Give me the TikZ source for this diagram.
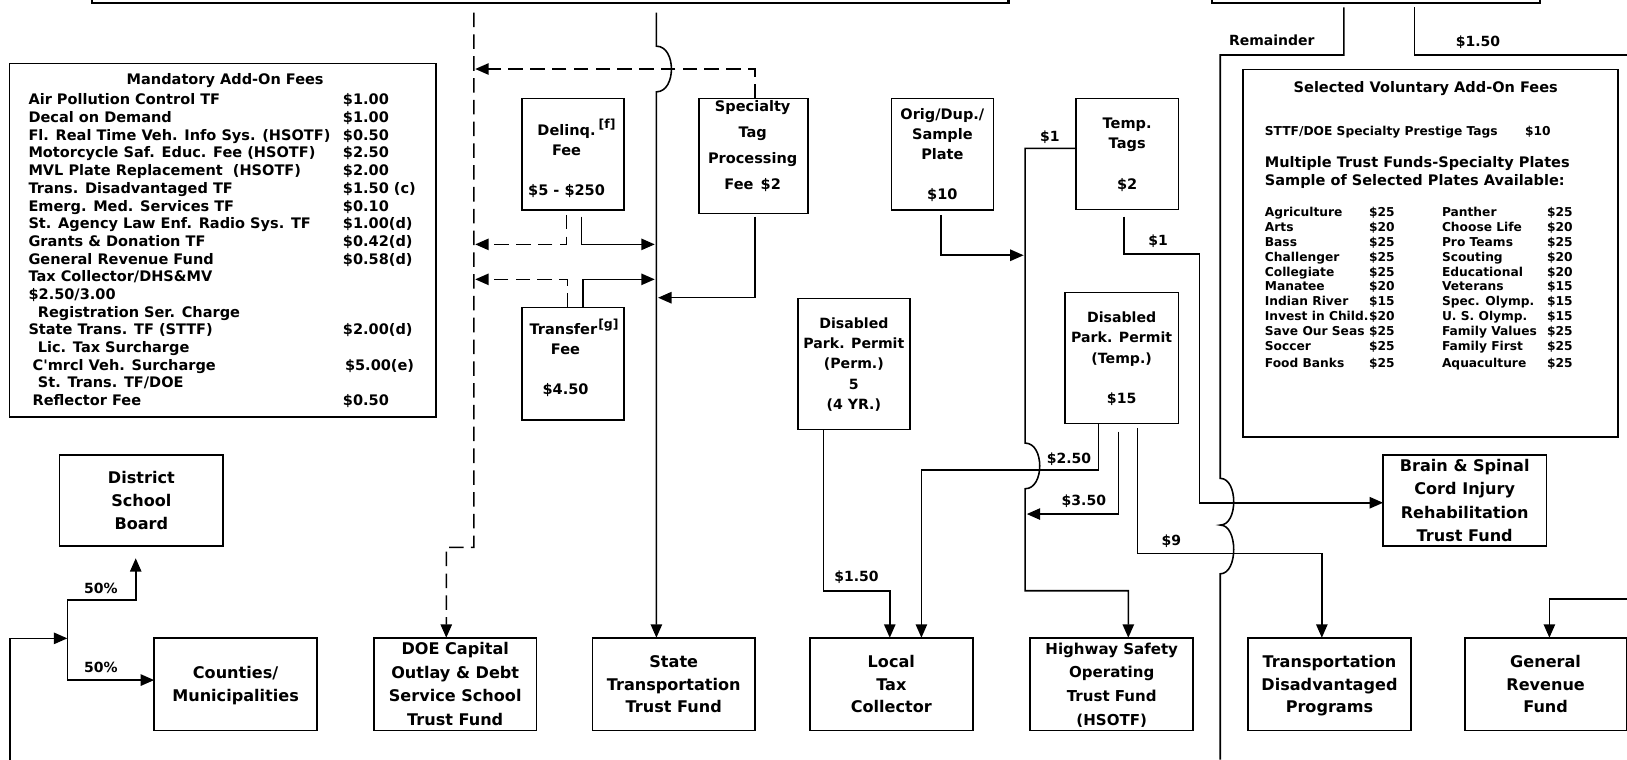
\documentclass[tikz,border=0pt]{standalone}
\usepackage{fontspec}
\setmainfont{DejaVu Sans}
\usetikzlibrary{arrows.meta,calc}
\newcommand\fs[2]{\fontsize{#1}{#2}\selectfont}
% invisible rules: top one reaches 0.979em, bottom one 0.25em below the baseline,
% so a text block is centred on the middle of its capital letters
\newcommand\topst{\rule{0pt}{0.979em}}
\newcommand\botst{\rule[-0.25em]{0pt}{0.25em}}
\newcommand\mrow[2]{\makebox[303pt][l]{#1}#2}
\newcommand\vrow[4]{\makebox[100.5pt][l]{#1}\makebox[70.2pt][l]{#2}\makebox[101.3pt][l]{#3}#4}
\newcommand\fnref[1]{\raisebox{6pt}{\fs{12}{12}[#1]}}

\begin{document}
\begin{tikzpicture}[x=1pt,y=-1pt,
  every node/.style={inner sep=0pt, outer sep=0pt},
  tf/.style 2 args={font=\bfseries\fs{#1}{#2}},
  box/.style={draw, line width=1.5pt, rectangle, align=center},
  topbox/.style={draw, line width=2.2pt, rectangle},
  ctr/.style={align=center},
  lft/.style={align=left, anchor=west},
  lab/.style={tf={13.5}{16}, anchor=west, execute at begin node=\topst, execute at end node=\botst},
  wire/.style={line width=1.5pt},
  dwire/.style={line width=1.5pt, dash pattern=on 14pt off 7pt},
  arr/.style={-{Triangle[length=13pt,width=11pt]}},
  big/.style={box, tf={15.5}{22}, minimum width=157pt, minimum height=89.6pt},
]
\fill[white] (0,0) rectangle (1568,732);
\useasboundingbox (0,0) rectangle (1568,732);
\clip (0,0) rectangle (1568,732);

% ---------- source boxes at the top ----------
\node[topbox, minimum width=883pt, minimum height=33.2pt] (topl) at (530.5,-14) {};
\node[topbox, minimum width=316pt, minimum height=33.2pt] (topr) at (1326,-14) {};

% ---------- mandatory add-on fees ----------
\node[box, minimum width=411pt, minimum height=341pt] (mand) at (214.5,231.5) {};
\node[tf={14}{17}] (mandtitle) at (217,76) {\topst Mandatory Add-On Fees\botst};
\node[lft, tf={14}{17.05}] (mandlist) at (27.5,240.9) {\topst\mrow{Air Pollution Control TF}{\$1.00}\\
\mrow{Decal on Demand}{\$1.00}\\
\mrow{Fl. Real Time Veh. Info Sys. (HSOTF)}{\$0.50}\\
\mrow{Motorcycle Saf. Educ. Fee (HSOTF)}{\$2.50}\\
\mrow{MVL Plate Replacement\ \ (HSOTF)}{\$2.00}\\
\mrow{Trans. Disadvantaged TF}{\$1.50 (c)}\\
\mrow{Emerg. Med. Services TF}{\$0.10}\\
\mrow{St. Agency Law Enf. Radio Sys. TF}{\$1.00(d)}\\
\mrow{Grants \& Donation TF}{\$0.42(d)}\\
\mrow{General Revenue Fund}{\$0.58(d)}\\
\mrow{Tax Collector/DHS\&MV}{}\\
\mrow{\$2.50/3.00}{}\\
\mrow{\hspace*{9pt}Registration Ser. Charge}{}\\
\mrow{State Trans. TF (STTF)}{\$2.00(d)}\\
\mrow{\hspace*{9pt}Lic. Tax Surcharge}{}\\
\mrow{\hspace*{4pt}C\textquotesingle mrcl Veh. Surcharge}{\hspace*{2pt}\$5.00(e)}\\
\mrow{\hspace*{9pt}St. Trans. TF/DOE}{}\\
\mrow{\hspace*{4pt}Reflector Fee}{\$0.50}\botst};

% ---------- selected voluntary add-on fees ----------
\node[box, minimum width=361.6pt, minimum height=354.1pt] (vol) at (1378.5,243.85) {};
\node[tf={14}{17}] (voltitle) at (1374,84.2) {\topst Selected Voluntary Add-On Fees\botst};
\node[tf={11.8}{14}, anchor=west] (volsttf) at (1219,125.9) {\topst\makebox[250.7pt][l]{STTF/DOE Specialty Prestige Tags}\$10\botst};
\node[lft, tf={14}{17.1}] (volmult) at (1219,164.95) {\topst Multiple Trust Funds-Specialty Plates\\Sample of Selected Plates Available:\botst};
\node[lft, tf={11.8}{14.28}] (vollist) at (1219,277.4) {\topst\vrow{Agriculture}{\$25}{Panther}{\$25}\\
\vrow{Arts}{\$20}{Choose Life}{\$20}\\
\vrow{Bass}{\$25}{Pro Teams}{\$25}\\
\vrow{Challenger}{\$25}{Scouting}{\$20}\\
\vrow{Collegiate}{\$25}{Educational}{\$20}\\
\vrow{Manatee}{\$20}{Veterans}{\$15}\\
\vrow{Indian River}{\$15}{Spec. Olymp.}{\$15}\\
\vrow{Invest in Child.}{\$20}{U. S. Olymp.}{\$15}\\
\vrow{Save Our Seas}{\$25}{Family Values}{\$25}\\
\vrow{Soccer}{\$25}{Family First}{\$25}\\[2.8pt]
\vrow{Food Banks}{\$25}{Aquaculture}{\$25}\botst};

% ---------- fee boxes ----------
\node[box, minimum width=98.6pt, minimum height=107.6pt] (delinq) at (552.3,148.6) {};
\node[ctr, tf={14}{19.5}] (delinqt) at (546,153.7) {\topst Delinq.\rlap{\hspace{3pt}\fnref{f}}\\Fee\\[19.5pt]\$5 - \$250\botst};
\node[box, minimum width=105pt, minimum height=110.8pt] (spec) at (726.3,150.2) {};
\node[ctr, tf={14}{25}] (spect) at (725.4,140.25) {\topst Specialty\\Tag\\Processing\\Fee\enspace\$2\botst};
\node[box, tf={14}{19.3}, minimum width=98.4pt, minimum height=107.6pt] (orig) at (908.2,148.6) {\topst Orig/Dup./\\Sample\\Plate\\[19.3pt]\$10\botst};
\node[box, tf={14}{19.8}, minimum width=98.6pt, minimum height=106.9pt] (temp) at (1086.3,148.25) {\topst Temp.\\Tags\\[19.8pt]\$2\botst};
\node[box, minimum width=98.6pt, minimum height=108.6pt] (transfer) at (552.3,350.5) {};
\node[ctr, tf={14}{19.3}] (transfert) at (543,345.35) {\topst Transfer\rlap{\hspace{1pt}\fnref{g}}\\[0pt]\hspace*{4pt}Fee\\[19.3pt]\hspace*{4pt}\$4.50\botst};
\node[box, tf={13.6}{19.7}, minimum width=108.2pt, minimum height=126.3pt] (perm) at (822.9,350.65) {\topst Disabled\\Park. Permit\\(Perm.)\\5\\(4 YR.)\botst};
\node[box, tf={13.6}{19.5}, minimum width=109.2pt, minimum height=126.2pt] (dtemp) at (1081,344.9) {\topst Disabled\\Park. Permit\\(Temp.)\\[19.5pt]\$15\botst};

% ---------- recipients ----------
\node[big, minimum width=157.5pt, minimum height=87.7pt] (dsb) at (136.25,482.35) {\topst District\\School\\Board\botst};
\node[big, tf={15.5}{22.7}, minimum width=157.4pt, minimum height=87.7pt] (brain) at (1411.6,482.35) {\topst Brain \& Spinal\\Cord Injury\\Rehabilitation\\Trust Fund\botst};
\node[big, tf={15.5}{22.5}] (counties) at (227.05,659.4) {\topst Counties/\\Municipalities\botst};
\node[big, tf={15.5}{22.8}] (doe) at (438.7,659.4) {\topst DOE Capital\\Outlay \& Debt\\Service School\\Trust Fund\botst};
\node[big] (stt) at (649.3,659.4) {\topst State\\Transportation\\Trust Fund\botst};
\node[big] (ltc) at (859,659.4) {\topst Local\\Tax\\Collector\botst};
\node[big, tf={14.5}{22.8}] (hsotf) at (1071.4,659.4) {\topst Highway Safety\\Operating\\Trust Fund\\(HSOTF)\botst};
\node[big] (tdp) at (1281.25,659.4) {\topst Transportation\\Disadvantaged\\Programs\botst};
\node[big, minimum width=155.9pt] (grf) at (1489.55,659.4) {\topst General\\Revenue\\Fund\botst};

% ---------- free ends of the flows ----------
\coordinate (dashtop) at (456.6,12.2);
\coordinate (sttftop) at (632.6,12.2);
\coordinate (remtop) at (1295.2,7.1);
\coordinate (gentop) at (1363,7.1);
\coordinate (remend) at (1176,732);
\coordinate (loopin) at (9.6,732);
\coordinate (split) at (64.9,615.2);
\coordinate (grin) at (1568,577.3);
\coordinate (genout) at (1568,53);

% ---------- DOE (dashed) trunk ----------
\draw[dwire,arr] (dashtop) -- (456.6,527.5) -- (430.1,527.5) -- ($(doe.north)+(-8.6,0)$);
\draw[dwire,arr] ($(spec.north)+(1.3,0)$) |- (458,66.5);
\draw[dwire,arr] ($(delinq.south)+(-6.4,4.6)$) |- (458,235.5);
\draw[dwire,arr] ($(transfer.north)+(-5.3,0)$) |- (458,269.2);

% ---------- STTF trunk ----------
\draw[wire,arr] (sttftop) -- (632.6,44.5) .. controls (651.9,44.5) and (651.9,88.5) .. (632.6,88.5) -- ($(stt.north)+(-16.7,0)$);
\draw[wire,arr] ($(delinq.south)+(8,6.4)$) |- (631,235.5);
\draw[wire,arr] ($(transfer.north)+(9.4,0)$) |- (631,269.2);
\draw[wire,arr] ($(spec.south)+(1.3,3.2)$) |- (634.2,286.9);

% ---------- HSOTF collector ----------
\draw[wire,arr] ($(temp.west)+(0,-5.25)$) -- (988,143) -- (988,427) .. controls (1006.7,427) and (1006.7,471) .. (988,471) -- (988,569.3) -| ($(hsotf.north)+(16,0)$);
\draw[wire,arr] ($(orig.south)+(-1.2,4.6)$) |- (986.5,246);
\draw[wire,arr] ($(dtemp.south)+(-3.2,8)$) |- (989.5,495.4);

% ---------- local tax collector ----------
\draw[wire,arr] ($(dtemp.south)+(-22.5,0)$) -- (1058.5,453) -| ($(ltc.north)+(29,0)$);
\draw[wire,arr] ($(perm.south)+(-29.4,0)$) -- (793.5,569.3) -| ($(ltc.north)+(-1.5,0)$);

% ---------- transportation disadvantaged / brain & spinal ----------
\draw[wire,arr] ($(dtemp.south)+(15.1,4.8)$) -- (1096.1,533.3) -| ($(tdp.north)+(-7.35,0)$);
\draw[wire,arr] ($(temp.south)+(-3,7.1)$) -- (1083.3,244.8) -- (1155.9,244.8) -- (1155.9,484.5) -- ($(brain.west)+(0,2.15)$);

% ---------- remainder and general revenue ----------
\draw[wire] (remtop) -- (1295.2,53) -- (1176,53) -- (1176,461)
  .. controls (1193.3,461) and (1193.3,506) .. (1176,506)
  .. controls (1193.3,506) and (1193.3,553) .. (1176,553) -- (remend);
\draw[wire] (gentop) -- (1363,53) -- (genout);
\draw[wire,arr] (grin) -| ($(grf.north)+(3.65,0)$);

% ---------- 50/50 split ----------
\draw[wire,arr] (loopin) |- (split);
\draw[wire,arr] (split) -- (64.9,578.3) -| ($(dsb.south)+(-5.45,11.8)$);
\draw[wire,arr] (split) -- (64.9,655.4) -- ($(counties.west)+(0,-4)$);

% ---------- amounts on the flows ----------
\node[lab] (lrem) at (1184.5,39.2) {Remainder};
\node[lab] (lgen) at (1403,40.2) {\$1.50};
\node[lab] (ltempa) at (1002.3,131.7) {\$1};
\node[lab] (ltempb) at (1106.7,232) {\$1};
\node[lab] (l250) at (1008.8,441.7) {\$2.50};
\node[lab] (l350) at (1023.2,482.5) {\$3.50};
\node[lab] (l9) at (1119.6,520.4) {\$9};
\node[lab] (lperm) at (804,555.8) {\$1.50};
\node[lab] (lsb) at (81,567) {50\%};
\node[lab] (lcm) at (81,643.2) {50\%};
\end{tikzpicture}
\end{document}
